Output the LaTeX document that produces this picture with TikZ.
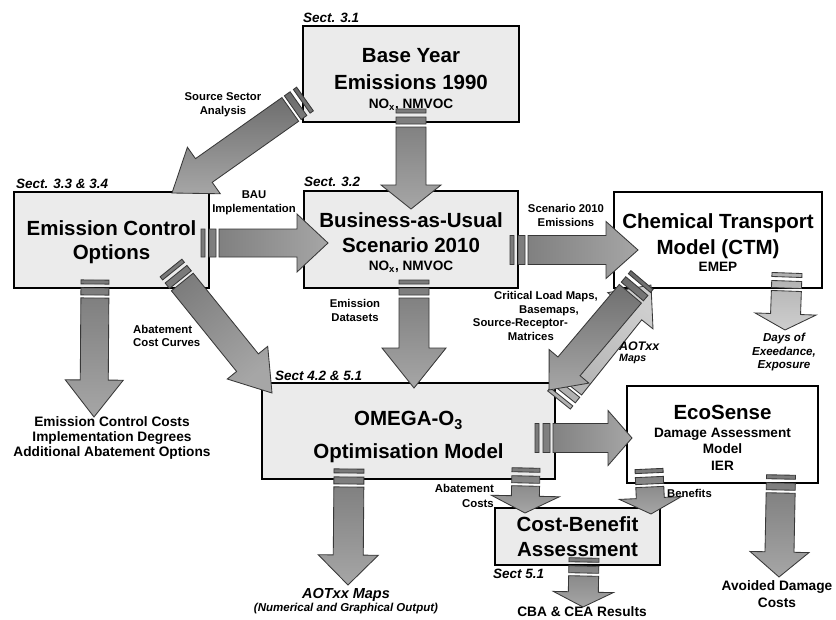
\documentclass[tikz,border=0pt]{standalone}
\usepackage{fontspec}
\setmainfont{Liberation Sans}
\usetikzlibrary{calc}
\definecolor{boxgray}{HTML}{EBEBEB}
\definecolor{edgec}{HTML}{383838}
\definecolor{atail}{HTML}{7A7A7A}
\definecolor{ahead}{HTML}{A6A6A6}
\definecolor{ltail}{HTML}{B0B0B0}
\definecolor{lhead}{HTML}{CECECE}
\newcommand\titlef{\fontsize{20.5}{25}\selectfont\bfseries}
\newcommand\subf{\fontsize{13.6}{16.5}\selectfont\bfseries}
\newcommand\lblf{\fontsize{11.3}{14}\selectfont\bfseries}
\newcommand\secf{\fontsize{13.5}{16}\selectfont\bfseries\itshape}
\newcommand\outf{\fontsize{13.7}{15}\selectfont\bfseries}
\newcommand\topstrut[1]{\rule{0pt}{#1pt}}
\newcommand\baw{14.5}
\newcommand\baW{29}
\newcommand\bah{30}
\tikzset{
  box/.style={draw=black, line width=2pt, fill=boxgray, inner sep=0pt,
    anchor=north west, align=center, font=\titlef},
  wbox/.style={box, fill=white},
  lbl/.style={font=\lblf, align=center, inner sep=0pt},
  sect/.style={font=\secf, inner sep=0pt, anchor=west},
  outl/.style={font=\outf, align=center, inner sep=0pt},
  bw/.code={\renewcommand\baw{#1}},
  bW/.code={\renewcommand\baW{#1}},
  bh/.code={\renewcommand\bah{#1}},
  ba/.style={shift={(\tikztostart)},rotate=\n1},
  barrow/.style={draw=edgec, line width=0.85pt, line join=miter,
    top color=atail, bottom color=ahead,
    to path={let \p1=($(\tikztotarget)-(\tikztostart)$),
      \n1={atan2(\y1,\x1)}, \n2={veclen(\x1,\y1)} in
      ([ba]0,-\baw) -- ([ba]4,-\baw) -- ([ba]4,\baw) -- ([ba]0,\baw) -- cycle
      ([ba]8,-\baw) -- ([ba]15,-\baw) -- ([ba]15,\baw) -- ([ba]8,\baw) -- cycle
      ([ba]18,-\baw) -- ([ba]{\n2-\bah},-\baw) -- ([ba]{\n2-\bah},-\baW)
      -- ([ba]\n2,0) -- ([ba]{\n2-\bah},\baW) -- ([ba]{\n2-\bah},\baw)
      -- ([ba]18,\baw) -- cycle}},
  larrow/.style={barrow, top color=ltail, bottom color=lhead},
}
\begin{document}
\begin{tikzpicture}[x=1pt,y=-1pt]
\path[use as bounding box, fill=white] (0,0) rectangle (836,619);

% boxes
\node[box, minimum width=216, minimum height=96] (base) at (302,25)
  {\topstrut{24.7}Base Year\\[2pt]Emissions 1990\\[-6.4pt]{\subf NO\textsubscript{x}, NMVOC}};
\node[box, minimum width=195, minimum height=96] (eco) at (13,191)
  {\topstrut{20}Emission Control\\[-1pt]Options};
\node[box, minimum width=214, minimum height=97] (bau) at (303,190)
  {\topstrut{21}Business-as-Usual\\Scenario 2010\\[-6.4pt]{\subf NO\textsubscript{x}, NMVOC}};
\node[wbox, minimum width=208, minimum height=96] (ctm) at (613,191)
  {\topstrut{19}Chemical Transport\\[1pt]Model (CTM)\\[-8pt]{\subf EMEP}};
\node[box, minimum width=293, minimum height=96] (omega) at (261,382)
  {\topstrut{26.7}OMEGA-O\textsubscript{3}\\[7.5pt]Optimisation Model};
\node[wbox, minimum width=191, minimum height=97, font=\subf] (ecos) at (626,385)
  {{\titlef\topstrut{20.7}EcoSense}\\[1.6pt]Damage Assessment\\Model\\IER};
\node[box, minimum width=165, minimum height=57] (cba) at (494,507)
  {Cost-Benefit\\Assessment};

% arrow end points
\coordinate (a1s) at ($(base.south)+(0,-14)$);
\coordinate (a1t) at ($(bau.north)+(0,19)$);
\coordinate (a2s) at ($(base.south west)+(3,-24)$);
\coordinate (a2t) at ($(eco.north east)+(-38,2)$);
\coordinate (a3s) at ($(eco.east)+(-9,3)$);
\coordinate (a3t) at ($(bau.west)+(25,3.5)$);
\coordinate (a4s) at ($(bau.east)+(-9,10.5)$);
\coordinate (a4t) at ($(ctm.west)+(25,10)$);
\coordinate (a5s) at ($(bau.south)+(3,-9)$);
\coordinate (a5t) at ($(omega.north)+(5.5,6)$);
\coordinate (a6s) at ($(eco.south)+(-16.5,-9)$);
\coordinate (costout) at (94,417);
\coordinate (a7s) at ($(eco.south east)+(-39,-21)$);
\coordinate (a7t) at ($(omega.north west)+(11,11)$);
\coordinate (a8s) at ($(omega.north east)+(3,18)$);
\coordinate (a8t) at ($(ctm.south west)+(38,-4)$);
\coordinate (a9s) at ($(ctm.south west)+(29,-9)$);
\coordinate (a9t) at ($(omega.north east)+(-7,8)$);
\coordinate (a10s) at ($(omega.east)+(-21,7)$);
\coordinate (a10t) at ($(ecos.west)+(6,3.5)$);
\coordinate (a11s) at ($(omega.south)+(-59.5,-11)$);
\coordinate (aotout) at (348,585);
\coordinate (a12s) at ($(omega.south east)+(-30,-12)$);
\coordinate (a12t) at ($(cba.north)+(-52.5,6)$);
\coordinate (a13s) at ($(ecos.south west)+(23,-15)$);
\coordinate (a13t) at ($(cba.north east)+(-10,7)$);
\coordinate (a14s) at ($(ecos.south east)+(-38,-9)$);
\coordinate (avoidout) at (779,577);
\coordinate (a15s) at ($(ctm.south east)+(-36,-16)$);
\coordinate (daysout) at (785,330);
\coordinate (a16s) at ($(cba.south)+(6.5,-8)$);
\coordinate (resout) at (583,607);

% arrows
\path[barrow, shading angle=0, bw=15, bW=30, bh=24] (a1s) to (a1t);
\path[barrow, shading angle=-54.6, top color=atail!85!black, bW=28.5, bh=39] (a2s) to (a2t);
\path[barrow, shading angle=90, bw=14, bW=29, bh=31] (a3s) to (a3t);
\path[barrow, shading angle=90, bW=28.5, bh=32] (a4s) to (a4t);
\path[barrow, shading angle=0, bw=15, bW=32, bh=40] (a5s) to (a5t);
\path[barrow, shading angle=0, bw=14, bW=29, bh=37] (a6s) to (costout);
\path[barrow, shading angle=39, bw=14, bW=26, bh=39] (a7s) to (a7t);
\path[larrow, shading angle=141.5, bW=29, bh=33] (a8s) to (a8t);
\path[barrow, shading angle=-40.3, top color=atail!85!black, bW=26, bh=31] (a9s) to (a9t);
\path[barrow, shading angle=90, bW=27.5, bh=24] (a10s) to (a10t);
\path[barrow, shading angle=0, bw=15, bW=30, bh=30] (a11s) to (aotout);
\path[barrow, shading angle=0, bw=14, bW=34, bh=17] (a12s) to (a12t);
\path[barrow, shading angle=0, bw=14, bW=31, bh=16] (a13s) to (a13t);
\path[barrow, shading angle=0, bW=29.5, bh=25] (a14s) to (avoidout);
\path[larrow, shading angle=0, bw=15, bW=30.5, bh=16] (a15s) to (daysout);
\path[barrow, shading angle=0, bw=15, bW=30, bh=15] (a16s) to (resout);

% section labels
\node[sect] (s31) at (303,18) {Sect. 3.1};
\node[sect] (s334) at (16,184) {Sect. 3.3 \& 3.4};
\node[sect] (s32) at (304,182) {Sect. 3.2};
\node[sect] (s4251) at (275,376) {Sect 4.2 \& 5.1};
\node[sect] (s51) at (493,574) {Sect 5.1};

% connector labels
\node[lbl] (lsrc) at (223,104.5) {Source Sector\\Analysis};
\node[lbl] (lbau) at (254,203) {BAU\\Implementation};
\node[lbl] (lscen) at (566,215) {Scenario 2010\\Emissions};
\node[lbl] (ldat) at (355,310.5) {Emission\\Datasets};
\node[lbl, align=right, anchor=north east, font=\fontsize{11.3}{13.7}\selectfont\bfseries] (lcrit) at (598,291)
  {Critical Load Maps,\\Basemaps,\rule{19pt}{0pt}\\Source-Receptor-\rule{30pt}{0pt}\\Matrices\rule{44pt}{0pt}};
\node[lbl, align=left, anchor=west, font=\fontsize{12.4}{11}\selectfont\bfseries\itshape] (laot) at (619,353)
  {AOTxx\\{\fontsize{10.6}{11}\selectfont Maps}};
\node[lbl, font=\fontsize{11.6}{13.5}\selectfont\bfseries\itshape] (ldays) at (784,352)
  {Days of\\Exeedance,\\Exposure};
\node[lbl, align=left, anchor=west, font=\fontsize{11.4}{12.5}\selectfont\bfseries] (labat) at (133,336)
  {Abatement\\Cost Curves};
\node[outl] (lcosts) at (112,438)
  {Emission Control Costs\\Implementation Degrees\\Additional Abatement Options};
\node[outl, font=\fontsize{14.5}{11}\selectfont\bfseries\itshape] (laotm) at (346,601)
  {AOTxx Maps\\{\fontsize{11.5}{11}\selectfont (Numerical and Graphical Output)}};
\node[lbl, align=right, anchor=east, font=\fontsize{11.4}{15}\selectfont\bfseries] (labc) at (494,495.5)
  {Abatement\\Costs};
\node[lbl, anchor=west] (lben) at (667,493) {Benefits};
\node[outl] (lres) at (582,612) {CBA \& CEA Results};
\node[outl, font=\fontsize{13.7}{17}\selectfont\bfseries] (lavoid) at (777,594.5)
  {Avoided Damage\\Costs};
\end{tikzpicture}
\end{document}
